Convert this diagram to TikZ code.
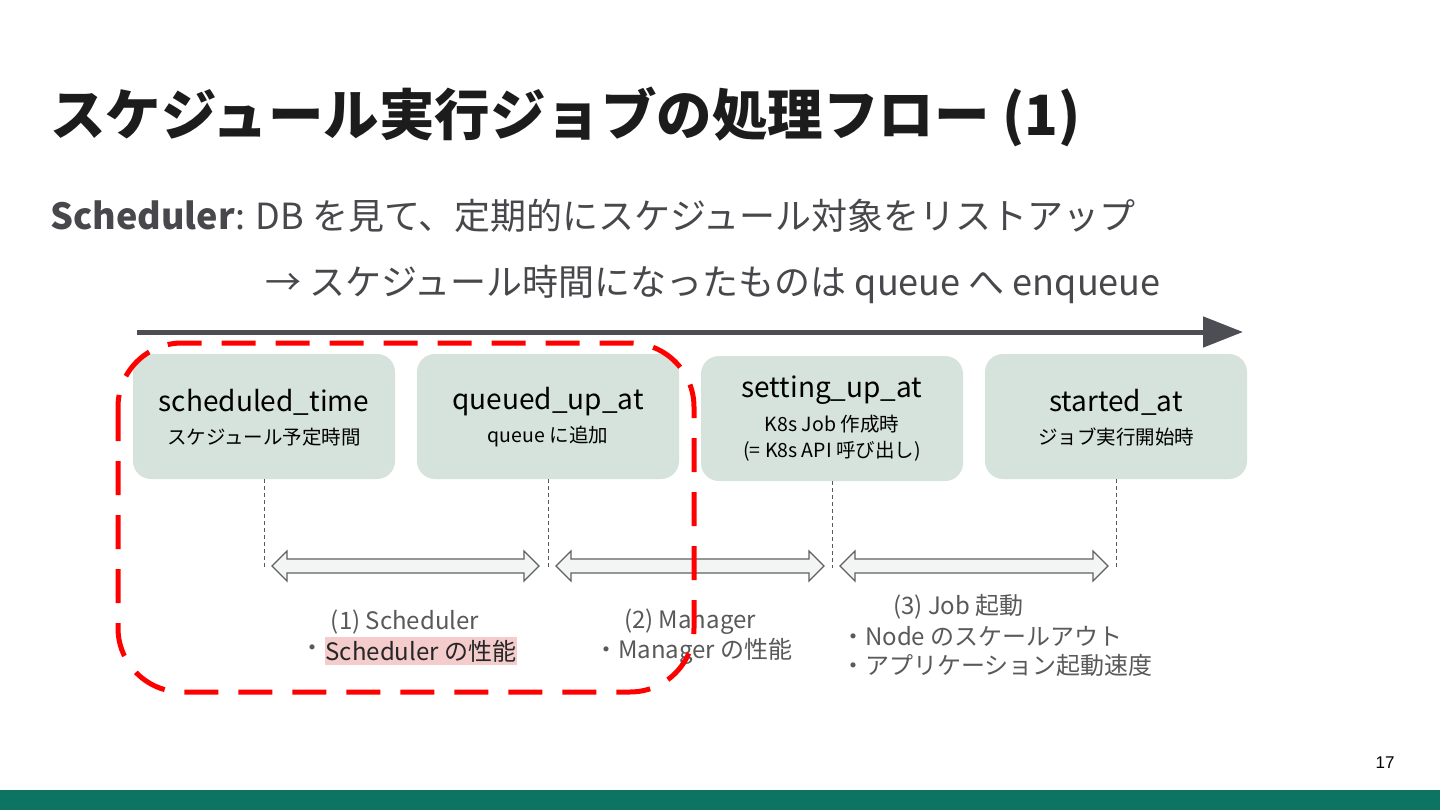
\documentclass[tikz,border=0pt]{standalone}
\usepackage{fontspec}
\setmainfont{Noto Sans CJK JP}
\newfontfamily\numfont{Liberation Sans}
\usetikzlibrary{arrows.meta,calc}
\definecolor{boxfill}{RGB}{213,227,220}
\definecolor{axisgray}{RGB}{77,78,83}
\definecolor{barGreen}{RGB}{14,116,98}
\definecolor{titlecol}{RGB}{28,28,28}
\definecolor{subcol}{RGB}{72,72,76}
\definecolor{labelcol}{RGB}{89,89,89}
\definecolor{hlpink}{RGB}{244,204,204}
\definecolor{redline}{RGB}{255,0,0}
\definecolor{arrowfill}{RGB}{243,245,245}
\tikzset{
  tbox/.style={draw=none,fill=boxfill,rounded corners=18pt,minimum width=262pt,minimum height=125pt,inner sep=0pt},
  maintxt/.style={font=\fontsize{28}{32}\selectfont,text=black,inner sep=0pt},
  subtxt/.style={font=\fontsize{19.5}{23}\selectfont,text=black,inner sep=0pt},
  lbl/.style={font=\fontsize{24}{28}\selectfont,text=labelcol,inner sep=0pt},
  tick/.style={draw=labelcol,line width=0.8pt,dash pattern=on 4pt off 3pt},
  blockarr/.style={draw=axisgray!90,fill=arrowfill,line width=1.2pt,line join=miter}
}
\newcommand{\blockarrow}[3]{%
  \draw[blockarr] (#1,#3) -- ++(15,-15) -- ++(0,8) -- ($(#2,#3)+(-15,-7)$) -- ++(0,-8) -- (#2,#3) -- ++(-15,15) -- ++(0,-8) -- ($(#1,#3)+(15,7)$) -- ++(0,8) -- cycle;}
\begin{document}
\begin{tikzpicture}[x=1pt,y=-1pt]
\useasboundingbox (0,0) rectangle (1440,810);
\fill[white] (0,0) rectangle (1440,810);
% bottom bar
\fill[barGreen] (0,790) rectangle (1440,810);
\node[font=\numfont\fontsize{17}{20}\selectfont,text=black,inner sep=0pt] (pg) at (1385,763) {17};
% title
\node[anchor=west,inner sep=0pt,text=titlecol,font=\fontsize{55.5}{62}\selectfont\bfseries] (title) at (50,117) {スケジュール実行ジョブの処理フロー (1)};
\node[anchor=west,inner sep=0pt,text=subcol,font=\fontsize{36}{40}\selectfont] (sub1) at (50,216) {\textbf{Scheduler}: DB を見て、定期的にスケジュール対象をリストアップ};
\node[anchor=west,inner sep=0pt,text=subcol,font=\fontsize{36}{40}\selectfont] (sub2) at (265,284) {→ スケジュール時間になったものは queue へ enqueue};
% time axis
\coordinate (tstart) at (137,332);
\coordinate (tend) at (1243,332);
\draw[axisgray,line width=5pt,-{Triangle[length=40pt,width=30pt]}] (tstart) -- (tend);
% boxes
\node[tbox] (b1) at (264,416.5) {};
\node[tbox] (b2) at (548,416.5) {};
\node[tbox] (b3) at (832,418.5) {};
\node[tbox] (b4) at (1116,416.5) {};
\node[maintxt] (b1a) at (264,402) {scheduled\_time};
\node[subtxt] (b1b) at (264,437) {スケジュール予定時間};
\node[maintxt] (b2a) at (548,402) {queued\_up\_at};
\node[subtxt] (b2b) at (548,437) {queue に追加};
\node[maintxt] (b3a) at (832,390) {setting\_up\_at};
\node[subtxt] (b3b) at (832,424) {K8s Job 作成時};
\node[subtxt] (b3c) at (832,451) {(= K8s API 呼び出し)};
\node[maintxt] (b4a) at (1116,402) {started\_at};
\node[subtxt] (b4b) at (1116,437) {ジョブ実行開始時};
% ticks
\foreach \b/\x in {b1/264,b2/548,b3/832,b4/1116}{
  \coordinate (\b t) at (\x,568);
  \draw[tick] (\b.south) -- (\b t);
}
% double arrows
\blockarrow{272}{539}{566}
\blockarrow{556}{824}{566}
\blockarrow{840}{1108}{566}
% labels
\node[lbl] (l1a) at (405,622) {(1) Scheduler};
\node[lbl,anchor=west] (l1bul) at (300,651) {・};
\node[lbl,anchor=west,fill=hlpink,inner xsep=1pt,inner ysep=3pt,text=black!85] (l1b) at (l1bul.east) {Scheduler の性能};
\node[lbl] (l2a) at (690,622) {(2) Manager};
\node[lbl,anchor=west] (l2b) at (594,651) {・Manager の性能};
\node[lbl,anchor=west] (l3a) at (893,607) {(3) Job 起動};
\node[lbl,anchor=west] (l3b) at (841,636) {・Node のスケールアウト};
\node[lbl,anchor=west] (l3c) at (841,665) {・アプリケーション起動速度};
% red dashed region
\draw[redline,line width=5pt,dash pattern=on 34pt off 20pt,rounded corners=64pt] (118,343) rectangle (694,692);
\end{tikzpicture}
\end{document}
